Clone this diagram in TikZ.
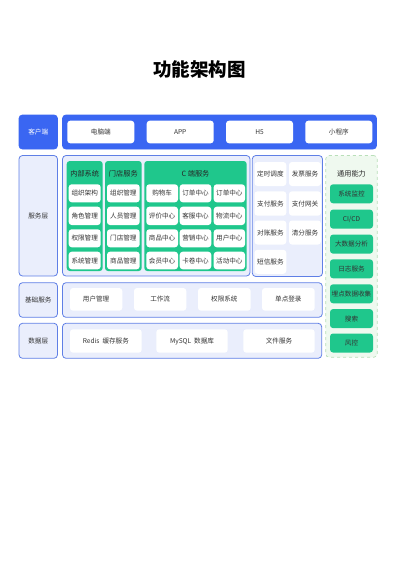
\documentclass[tikz,border=0pt]{standalone}
\usepackage{fontspec}
\setmainfont{Noto Sans CJK SC}
\definecolor{pblue}{HTML}{3A66F2}
\definecolor{bborder}{HTML}{5F7FE6}
\definecolor{lav}{HTML}{EAEEFC}
\definecolor{pgreen}{HTML}{1FC78C}
\definecolor{lgreen}{HTML}{EFF9EF}
\definecolor{gborder}{HTML}{B9DFB9}
\definecolor{txt}{HTML}{333333}
\newcommand\rbox[7]{%
  \pgfmathsetmacro\cxx{(#3+#5)/2}\pgfmathsetmacro\cyy{(#4+#6)/2}%
  \pgfmathsetmacro\ww{#5-#3}\pgfmathsetmacro\hh{#6-#4}%
  \node[#2,minimum width=\ww pt,minimum height=\hh pt] (#1) at (\cxx,\cyy) {#7};}
\tikzset{
  base/.style={inner sep=0pt,outer sep=0pt,font=\fontsize{6.6}{7}\selectfont,text=txt},
  bluebox/.style={base,fill=pblue,draw=pblue,rounded corners=3.5pt,line width=0.8pt},
  lavbox/.style={base,fill=lav,draw=bborder,rounded corners=3.5pt,line width=0.8pt},
  gcol/.style={base,fill=pgreen,rounded corners=3pt},
  wcell/.style={base,fill=white,rounded corners=3pt},
  gcell/.style={base,fill=pgreen,rounded corners=3pt},
  genbox/.style={base,fill=lgreen,draw=gborder,dashed,rounded corners=3.5pt,line width=0.7pt},
  hdr/.style={base,font=\fontsize{7.2}{8}\selectfont,text=black!85},
}
\begin{document}
\begin{tikzpicture}[x=1pt,y=-1pt]
\useasboundingbox (0,0) rectangle (400,566);
\node[font=\bfseries\fontsize{18.5}{19}\selectfont,inner sep=0pt] (title) at (199.5,69.5) {功能架构图};
% client
\rbox{cl}{bluebox,text=white}{19}{115}{57.5}{149}{客户端}
\rbox{cm}{bluebox}{62.5}{115}{376.5}{149}{}
\rbox{c1}{wcell}{67.3}{120.7}{134.3}{143.3}{电脑端}
\rbox{c2}{wcell}{146.7}{120.7}{213.7}{143.3}{APP}
\rbox{c3}{wcell}{226}{120.7}{293}{143.3}{H5}
\rbox{c4}{wcell}{305.3}{120.7}{372.3}{143.3}{小程序}
% service
\rbox{sl}{lavbox}{19}{155.5}{57.5}{276}{服务层}
\rbox{sm}{lavbox}{62.5}{155.5}{250}{276}{}
\rbox{g1}{gcol}{66.7}{161}{102.7}{271}{}
\rbox{g2}{gcol}{105}{161}{141.7}{271}{}
\rbox{g3}{gcol}{144.3}{161}{246.7}{271}{}
\node[hdr] (h1) at (84.7,173.3) {内部系统};
\node[hdr] (h2) at (123.3,173.3) {门店服务};
\node[hdr] (h3) at (195.5,173.3) {C 端服务};
\rbox{a1}{wcell}{68.7}{184.3}{100.7}{202.3}{组织架构}
\rbox{a2}{wcell}{68.7}{206.7}{100.7}{225}{角色管理}
\rbox{a3}{wcell}{68.7}{229.3}{100.7}{247.3}{权限管理}
\rbox{a4}{wcell}{68.7}{251.7}{100.7}{269.3}{系统管理}
\rbox{b1}{wcell}{107}{184.3}{139.7}{202.3}{组织管理}
\rbox{b2}{wcell}{107}{206.7}{139.7}{225}{人员管理}
\rbox{b3}{wcell}{107}{229.3}{139.7}{247.3}{门店管理}
\rbox{b4}{wcell}{107}{251.7}{139.7}{269.3}{商品管理}
\rbox{d11}{wcell}{146.3}{184.3}{178}{202.3}{购物车}
\rbox{d12}{wcell}{179.7}{184.3}{211.3}{202.3}{订单中心}
\rbox{d13}{wcell}{213.7}{184.3}{245}{202.3}{订单中心}
\rbox{d21}{wcell}{146.3}{206.7}{178}{225}{评价中心}
\rbox{d22}{wcell}{179.7}{206.7}{211.3}{225}{客服中心}
\rbox{d23}{wcell}{213.7}{206.7}{245}{225}{物流中心}
\rbox{d31}{wcell}{146.3}{229.3}{178}{247.3}{商品中心}
\rbox{d32}{wcell}{179.7}{229.3}{211.3}{247.3}{营销中心}
\rbox{d33}{wcell}{213.7}{229.3}{245}{247.3}{用户中心}
\rbox{d41}{wcell}{146.3}{251.7}{178}{269.3}{会员中心}
\rbox{d42}{wcell}{179.7}{251.7}{211.3}{269.3}{卡卷中心}
\rbox{d43}{wcell}{213.7}{251.7}{245}{269.3}{活动中心}
% right service box
\rbox{rm}{lavbox}{252.3}{155.5}{322.5}{276.5}{}
\rbox{r11}{wcell}{254.5}{162}{286.3}{186}{定时调度}
\rbox{r12}{wcell}{289}{162}{321}{186}{发票服务}
\rbox{r21}{wcell}{254.5}{191.3}{286.3}{215.7}{支付服务}
\rbox{r22}{wcell}{289}{191.3}{321}{215.7}{支付网关}
\rbox{r31}{wcell}{254.5}{220.5}{286.3}{244.5}{对账服务}
\rbox{r32}{wcell}{289}{220.5}{321}{244.5}{清分服务}
\rbox{r41}{wcell}{254.5}{249.8}{286.3}{273.8}{短信服务}
% general
\rbox{gm}{genbox}{325.7}{155.5}{377.3}{357.3}{}
\node[hdr] (gh) at (351.5,173.3) {通用能力};
\rbox{e1}{gcell}{330}{184.3}{373}{203.3}{系统监控}
\rbox{e2}{gcell}{330}{209.6}{373}{228.6}{CI/CD}
\rbox{e3}{gcell}{330}{234.6}{373}{253.6}{大数据分析}
\rbox{e4}{gcell}{330}{259.3}{373}{278.3}{日志服务}
\rbox{e5}{gcell}{330}{284.3}{373}{303.3}{埋点数据收集}
\rbox{e6}{gcell}{330}{309.1}{373}{328.1}{搜索}
\rbox{e7}{gcell}{330}{333.5}{373}{352.5}{风控}
% basic
\rbox{bl}{lavbox}{19}{282.7}{57.5}{317.3}{基础服务}
\rbox{bm}{lavbox}{62.5}{282.7}{322.3}{317.3}{}
\rbox{f1}{wcell}{70}{288}{122.3}{310.7}{用户管理}
\rbox{f2}{wcell}{134}{288}{186.3}{310.7}{工作流}
\rbox{f3}{wcell}{198}{288}{250.7}{310.7}{权限系统}
\rbox{f4}{wcell}{262}{288}{314.7}{310.7}{单点登录}
% data
\rbox{dl}{lavbox}{19}{323.3}{57.5}{358.3}{数据层}
\rbox{dm}{lavbox}{62.5}{323.3}{321.7}{358.3}{}
\rbox{k1}{wcell}{70}{329.3}{141.7}{352.7}{Redis\ \ 缓存服务}
\rbox{k2}{wcell}{156.3}{329.3}{227.7}{352.7}{MySQL\ \ 数据库}
\rbox{k3}{wcell}{243.3}{329.3}{314.7}{352.7}{文件服务}
\end{tikzpicture}
\end{document}
